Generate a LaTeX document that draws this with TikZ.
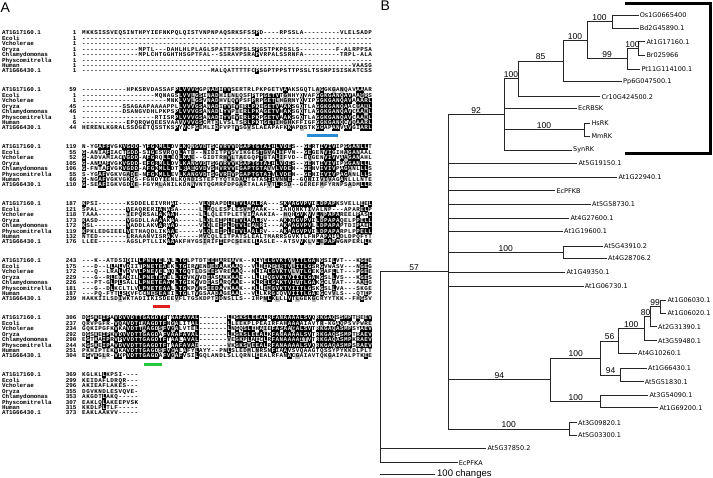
\documentclass[tikz,border=0pt]{standalone}
\usepackage{fontspec}
\setmainfont{Liberation Sans}
\newfontfamily\alfont{Liberation Mono}
\newfontfamily\leaffont{DejaVu Sans}
\definecolor{algrey}{gray}{0.74}
\definecolor{barblue}{RGB}{40,140,210}
\definecolor{barred}{RGB}{225,30,30}
\definecolor{bargreen}{RGB}{40,200,60}
\ExplSyntaxOn
\tl_const:Nn \c_al_pitch_tl {4.03}
\tl_const:Nn \c_al_rowh_tl {5.43}
\tl_const:Nn \c_al_seqx_tl {82}
\int_new:N \l_al_cnt_int
\int_new:N \l_al_max_int
\int_new:N \l_al_cls_int
\int_new:N \l_al_ri_int
\tl_new:N \l_al_cons_tl
\tl_new:N \l_al_x_tl
\tl_new:N \l_al_xc_tl
\tl_new:N \l_al_yb_tl
\tl_new:N \l_al_yt_tl
\tl_new:N \l_al_w_tl
\seq_new:N \l_al_names_seq
\seq_new:N \l_al_nums_seq
\seq_set_from_clist:Nn \l_al_names_seq
  { AT1G17160.1 , Ecoli , Vcholerae , Oryza , Chlamydomonas , Physcomitrella , Human , AT1G66430.1 }
\int_step_inline:nn {8}
  {
    \str_new:c { l_al_row_#1_str }
    \tl_new:c { l_al_k_#1_tl }
  }
\cs_new:Npn \al_item:nn #1#2
  { \exp_args:Nc \str_item:Nn { l_al_row_#1_str } {#2} }
\cs_new:Npn \al_group:n #1
  {
    \str_case:nnF {#1}
      {
        {I}{a}{L}{a}{V}{a}{M}{a}
        {F}{b}{Y}{b}{W}{b}
        {K}{c}{R}{c}{H}{c}
        {D}{d}{E}{d}{N}{d}{Q}{d}
        {S}{e}{T}{e}
        {A}{f}{G}{f}
      }
      {#1}
  }
\cs_new_protected:Npn \al_box:n #1
  {
    \begin{pgfscope}
    \pgfsetfillcolor{#1}
    \pgfpathrectangle{\pgfpoint{\l_al_x_tl pt}{\l_al_yt_tl pt}}{\pgfpoint{\l_al_w_tl pt}{-5.53pt}}
    \pgfusepath{fill}
    \end{pgfscope}
  }
\cs_new_protected:Npn \al_block:nnnn #1#2#3#4
  {
    \seq_set_from_clist:Nn \l_al_nums_seq {#3}
    \int_zero:N \l_al_ri_int
    \tl_map_inline:nn {#4}
      {
        \int_incr:N \l_al_ri_int
        \str_set:cn { l_al_row_ \int_use:N \l_al_ri_int _str } {##1}
      }
    \tl_set:Nx \l_al_w_tl { \fp_eval:n { \c_al_pitch_tl + 0.2 } }
    \int_step_inline:nn {8}
      {
        \tl_set:Nx \l_al_yb_tl { \fp_eval:n { -(#1 + (##1 - 1) * \c_al_rowh_tl + 1.9) } }
        \pgftext[base,left,at={\pgfpoint{2pt}{\l_al_yb_tl pt}}]
          { \color{black} \seq_item:Nn \l_al_names_seq {##1} }
        \pgftext[base,right,at={\pgfpoint{76.5pt}{\l_al_yb_tl pt}}]
          { \color{black} \seq_item:Nn \l_al_nums_seq {##1} }
      }
    \int_step_variable:nNn {#2} \l_al_c_tl
      {
        \int_step_variable:nNn {8} \l_al_r_tl
          {
            \tl_set:cx { l_al_k_ \l_al_r_tl _tl } { \al_item:nn { \l_al_r_tl } { \l_al_c_tl } }
            \tl_if_empty:cT { l_al_k_ \l_al_r_tl _tl }
              { \tl_set:cn { l_al_k_ \l_al_r_tl _tl } { - } }
          }
        \int_zero:N \l_al_max_int
        \tl_clear:N \l_al_cons_tl
        \int_step_variable:nNn {8} \l_al_r_tl
          {
            \str_if_eq:eeF { \tl_use:c { l_al_k_ \l_al_r_tl _tl } } { - }
              {
                \int_zero:N \l_al_cnt_int
                \int_step_variable:nNn {8} \l_al_s_tl
                  {
                    \str_if_eq:eeT { \tl_use:c { l_al_k_ \l_al_r_tl _tl } } { \tl_use:c { l_al_k_ \l_al_s_tl _tl } }
                      { \int_incr:N \l_al_cnt_int }
                  }
                \int_compare:nNnT { \l_al_cnt_int } > { \l_al_max_int }
                  {
                    \int_set_eq:NN \l_al_max_int \l_al_cnt_int
                    \tl_set:Nx \l_al_cons_tl { \tl_use:c { l_al_k_ \l_al_r_tl _tl } }
                  }
              }
          }
        \tl_set:Nx \l_al_x_tl { \fp_eval:n { \c_al_seqx_tl + (\l_al_c_tl - 1) * \c_al_pitch_tl - 0.1 } }
        \tl_set:Nx \l_al_xc_tl { \fp_eval:n { \c_al_seqx_tl + (\l_al_c_tl - 0.5) * \c_al_pitch_tl } }
        \int_step_variable:nNn {8} \l_al_r_tl
          {
            \tl_set:Nx \l_al_yt_tl { \fp_eval:n { -(#1 + (\l_al_r_tl - 1.5) * \c_al_rowh_tl) + 0.05 } }
            \tl_set:Nx \l_al_yb_tl { \fp_eval:n { -(#1 + (\l_al_r_tl - 1) * \c_al_rowh_tl + 1.9) } }
            \int_set:Nn \l_al_cls_int {0}
            \str_if_eq:eeF { \tl_use:c { l_al_k_ \l_al_r_tl _tl } } { - }
              {
                \int_compare:nNnT { \l_al_max_int } > { 3 }
                  {
                    \str_if_eq:eeTF { \tl_use:c { l_al_k_ \l_al_r_tl _tl } } { \l_al_cons_tl }
                      { \int_set:Nn \l_al_cls_int {2} }
                      {
                        \str_if_eq:eeT
                          { \exp_args:Nv \al_group:n { l_al_k_ \l_al_r_tl _tl } }
                          { \exp_args:NV \al_group:n \l_al_cons_tl }
                          { \int_set:Nn \l_al_cls_int {1} }
                      }
                  }
              }
            \int_case:nn { \l_al_cls_int }
              {
                {2} { \al_box:n {black} }
                {1} { \al_box:n {algrey} }
              }
            \pgftext[base,at={\pgfpoint{\l_al_xc_tl pt}{\l_al_yb_tl pt}}]
              {
                \int_compare:nNnTF { \l_al_cls_int } = {2} { \color{white} } { \color{black} }
                \tl_use:c { l_al_k_ \l_al_r_tl _tl }
              }
          }
      }
  }
\NewDocumentCommand \AlBlock { m m m m } { \al_block:nnnn {#1} {#2} {#3} {#4} }
\ExplSyntaxOff
\tikzset{
  br/.style={line width=0.75pt, draw=black!85, line cap=rect},
  leaf/.style={font=\leaffont\mdseries\fontsize{6.5}{7}\selectfont, anchor=west, inner sep=1.3pt},
  bs/.style={font=\rmfamily\mdseries\fontsize{8.5}{9}\selectfont, anchor=south, inner sep=0.8pt},
  panel/.style={font=\rmfamily\mdseries\fontsize{14}{14}\selectfont, anchor=base west, inner sep=0pt},
  scalelab/.style={font=\rmfamily\mdseries\fontsize{9.5}{10}\selectfont, anchor=west, inner sep=2pt},
  thickbr/.style={line width=2.7pt, draw=black},
}
\newcommand\tleaf[4]{\coordinate (#1) at (#2,#3); \node[leaf] (#1t) at (#1) {#4};}
\newcommand\tedge[2]{\draw[br] (#1 |- #2) -- (#2);}
\newcommand\tspan[3]{\draw[br] (#1 |- #2) -- (#1 |- #3);}
\begin{document}
\begin{tikzpicture}[x=1pt,y=-1pt]
\useasboundingbox (0,0) rectangle (713,478);
% ---------------- Panel A -----------------
\node[panel] (labA) at (0.5,12.5) {A};
\begin{scope}
\alfont\bfseries\fontsize{5.9}{6}\selectfont
\AlBlock{33}{72}{1,1,1,1,1,1,1,1}{
{MKKSISSVEQSINTHPYIEFNKPQLQISTVNPNPAQSRKSFSSPD----RPSSLA---------VLELSADPEAMK}
{-}
{-}
{--------------MPTL---DAHLHLPLAGLSPATTSRPSLSPGSTPKPGSLS---------F-ALRPPSALSA}
{--------------MPLCHTGGHTHSGPTFAL--SSRAVPSRAPVRPALSSRNFA---------TRPL-ALASSPR}
{-}
{-------------------------------------------------------------------VAASG}
{--------------------------------MALQATTTTFCPSGPTPPSTTPSSLTSSRPISISKATCSSPESLS}
}
\AlBlock{90}{72}{59,1,1,45,46,1,6,44}{
{-----------HPKSRVDASSAFPLVVVGGPNADIYVSERTRLPKPGETVAAKSGQTLAGGKGANQAVAAAR}
{------------------MQNAGSLVVLGSINADHILNLQSFPTPGETVTGNHYQVAFGGKGANQAVAAGRS}
{---------------------MNKLVVLGSVNADHVLQVPSFPRPGETLHGRNYQVIPGGKGANQAVAAARL}
{----------SSAGAAPAAAAPPLLVVVGSANADIYVEVERLPKEGETVAAKSGQTLAGGKGANQAACGAKL}
{----------DSANGVDHLPKPSPLVVVGSANADLYVPIERLPKAGETVHAKSGQTLAGGKGANQAVCAAKL}
{------------------RTISRPLVVVGSANADIYVEVERLPKPGETVAAKSGQTLAGGKGANQAVCAAKL}
{-----------EPQRQWQEESVAAVVVVGSCMTDLVSLTSRLPKTGETIHGHKFFIGFGGKGANQCVQAARL}
{HERENLKGRALSSDGETQSSTKSPYVCFGEMLIDFVPTVSGVSLAEAPAFKKAPDSTKGGAPANVAVGIARL}
}
\AlBlock{147}{72}{119,55,52,105,106,55,66,110}{
{N-YGAFFVGKVGDD-YFGKMLLDVLKQNGVDTSCVRVVDGAPTGTAIILVDES--GERTIVIVIPGGANLLT}
{G-ANIAFIACTGDD-SIGESVRQQLATD--NIDITPVSVIKGESTGVALIFVN--GEGENVIGIHAGANAAL}
{G-ADVAMIACVGDD-AFGRQLLEQLKAE--GIDTRHVLTAEGQPTGTALIFVD--EQGENVIVVAAGANAHL}
{G-ANAAFVGKVGDD-EFGRMLLDVLKANGVDTSGVRVVKGAPTGTAIILVDES--GENTIVIVIPGGANLLL}
{G-FNTAFVGKVGDD-AFGKMLLDTLRAEGVDVSHVRVVEGAPTGTAVVLVDEN--GENVIVIVPAGANLLLS}
{S-YGAFVGKVGADE-NFGKMLLEVLKANGVDTSGVRIVPGAPTGTAIVLVDEN--GENIIVIVPAGANLLLS}
{G-NGAFVGKVGKDS-FGNDYIENLKQNDISTEFTYQTKDAATGTASIIVNNE--GQNIIVIVAGANLLLNTE}
{G-SEAFIGKVGDDE-FGYMLANILKDNNVNTQGMRFDPGARTALAFVTLRSD--GEREFMFYRNPSADMLLR}
}
\AlBlock{204}{72}{187,121,118,173,172,119,132,176}{
{KPSI-------KSDDELEIVRHAI-----VLQRAPDLKTVLAALRA---SKAAGVPVILDPAPKSVELLEEL}
{SPAL-------VEAQRERIANASA-----LLMQLESPLESVMAAAK---IAHQNKTIVALNP---APARELP}
{TAAA-------IEPQRSALAKAAH-----LLLQLETPLETVIAAAKIA--HQHGVKVVLNPAPAREELPASL}
{KASD-------VGGDLLAAAAKAA-----LLQLEIPLETVLAALRV---AKKAGVPVILDPAPAQELPPELL}
{KSL--------VADDLAKVARAAD-----VLQLEIPLDTVLEAMRI---AKAAGVPVLLDPAPAPTDIPAEL}
{KPKLEDGIEELVETHAQDLIKAAE-----VLQLEIPLETVLAALRV---AKAAGVPVILDPAPARPLPPELL}
{NTED-------LRAAANVISRAKV-----MVCQLEITPATSLEALTMARRSGVKTLFNPAPAIADLDPQFYT}
{LLEE-------AGSLPTLLIKAAAKFHYGSIRIFIEPCSEKELLASLE--ATSVVKLVLEPAPWGNPERLLK}
}
\AlBlock{261}{72}{243,175,172,229,226,181,187,239}{
{---K--ATDSIDILLPNETELALLTGLPTDTEEHAREAVK--KLYELGVKTVVITLGANGSILVT---KGEE}
{---D--LLALVDIITPNETEAEKLTGIRVENDEDAAKAAQ--VLHEKGIRTVLITLGSRGVWASV---NGEG}
{---Q--LRALVDVVLPNEVELAQLTGQTLDSEESVREAAQ--HLIALGVKTVLVTLGEKGAFLLT---PGEE}
{---G--RLEIADILLPNETEAELLTGVKVVDEASAKKAAE--LLLEQGVKTVIITLGANGSLLVS---KGES}
{---PT-GLPLSALLLPNETEAAMLTGIKVVDEASARQAAE--KLRELGAKTVIVTLGAKGCLVAT---AAEG}
{---G--DLKCLTLVLPNETEAALLTGKPVNSEEDAVKAAK--KLLEMGVKTVIITLGSKGSLLVA---SKGE}
{---PQ-FYTLSDVFCCNESEAEILTGLTVGSAADAGEAAL--VLLKRGCQVVIITLGAEGCVVLS---QTEP}
{HAKKIILSDIWKTADIIKISDEEVFLTGSKDPTDDNSLLS--IHPNLKLLLVTLGEKGCRYYTKK--FHGSV}
}
\AlBlock{318}{72}{306,237,234,292,290,244,251,304}{
{DGSKEIPAVDVVDTTGAGDTFTAAFAVAL-------LKGKSLEEALRFANAAAALSVQRKGAQSSMPTREEV}
{QRVPGFR-VQAVDTIAAGDTFNGALITAL-------LLEEKPLPEAIRFAHAAAAIAVTR-KGAQPSVPWRE}
{GQKIPGFKVKAVDTTAAGDSFVGALVTEL-------LNGQSLEHAIEFASAAGALSVTRKGAQASMPSYAEV}
{DGSKEIPKVDVVDTTGAGDAFVAAFAVAL-------LKGKSLEEALKFANAAAALSVTRKGAQSSMPTRAEV}
{EGTKAIPRVPVVDTTGAGDTFTAALAVAL-------VEGKPLAECLRFANAAAAITVTRKGAQASMPKRAEV}
{KGSKEIPAVDVVDTTGAGDTFTAAFAVAI-------VKGKSVEEALRFANAAAALSVQRKGAQASMPSRAEV}
{PKHIPTEKVKAVDTTGAGDSFVGALAFYLAYY--PNLSLEDMLNRSNFIAAVSVQAAGTQSSYPYKKDLPLT}
{EGVKGLR-VDPVDTTGAGDAFVGAFVSILGQLANDLSLLQRNLEEALRFANACGAIAVTQKGAIPALPTKEE}
}
\AlBlock{375}{14}{369,299,296,355,353,307,315,373}{
{KGLKLLKPSI}
{KEIDAFLDRQR}
{AKIEAFLAKES}
{DGVKNDLESVQVE}
{AKGDTLAKQ}
{EAKLQLAKEEPVSK}
{KKDLPLTLF}
{EAKLAAKVV}
}
\end{scope}
\fill[barblue] (307,134.5) rectangle (338,137.5);
\fill[barred] (153,305.5) rectangle (170,308.5);
\fill[bargreen] (144,363.5) rectangle (162,366.5);
% ---------------- Panel B -----------------
\node[panel] (labB) at (380.5,10.8) {B};
\coordinate (root) at (380,367);
\coordinate (n57) at (448,271.4);
\coordinate (n92) at (504,114.4);
\coordinate (n100a) at (518,78.8);
\coordinate (n85) at (563,61);
\coordinate (n100b) at (587,40.2);
\coordinate (n100c) at (612,21.7);
\coordinate (n99) at (627,58.7);
\coordinate (n100d) at (638,48.3);
\coordinate (nHs) at (584,129.7);
\coordinate (nA) at (563.3,252.2);
\coordinate (n94) at (550.7,379.7);
\coordinate (n100f) at (600.7,358);
\coordinate (n100g) at (600.7,401.3);
\coordinate (n56) at (618.3,341);
\coordinate (n94b) at (620.7,375);
\coordinate (n100h) at (644.3,328.7);
\coordinate (n80) at (650,316.7);
\coordinate (n99b) at (660,306.7);
\coordinate (nB) at (569.3,428.9);
\tleaf{Os}{638.3}{15}{Os1G0665400}
\tleaf{Bd}{638.3}{28.3}{Bd2G45890.1}
\tleaf{AtA}{645}{41.7}{At1G17160.1}
\tleaf{Br}{645}{55}{Br025966}
\tleaf{Pt}{640}{69}{Pt11G114100.1}
\tleaf{Pp}{621.7}{81.7}{Pp6G047500.1}
\tleaf{Cr}{600}{96.7}{Cr10G424500.2}
\tleaf{EcRBSK}{576.7}{108.3}{EcRBSK}
\tleaf{HsRK}{590}{123.3}{HsRK}
\tleaf{MmRK}{590}{136}{MmRK}
\tleaf{SynRK}{571.7}{150}{SynRK}
\tleaf{AtB}{577}{163.3}{At5G19150.1}
\tleaf{AtC}{617}{177.3}{At1G22940.1}
\tleaf{EcPFKB}{555}{190.7}{EcPFKB}
\tleaf{AtD}{590.7}{204.3}{At5G58730.1}
\tleaf{AtE}{569}{218.3}{At4G27600.1}
\tleaf{AtF}{562.7}{231}{At1G19600.1}
\tleaf{AtG}{602.7}{246}{At5G43910.2}
\tleaf{AtH}{606.7}{258.3}{At4G28706.2}
\tleaf{AtI}{565}{272.3}{At1G49350.1}
\tleaf{AtJ}{583.3}{286}{At1G06730.1}
\tleaf{AtK}{666}{300}{At1G06030.1}
\tleaf{AtL}{666}{313.3}{At1G06020.1}
\tleaf{AtM}{656.7}{326.7}{At2G31390.1}
\tleaf{AtN}{656.7}{340.7}{At3G59480.1}
\tleaf{AtO}{636.7}{353.3}{At4G10260.1}
\tleaf{AtP}{646.7}{368.3}{At1G66430.1}
\tleaf{AtQ}{643.3}{381.7}{At5G51830.1}
\tleaf{AtR}{648}{395}{At3G54090.1}
\tleaf{AtS}{658}{407.7}{At1G69200.1}
\tleaf{AtT}{576.7}{422.7}{At3G09820.1}
\tleaf{AtU}{576.7}{435}{At5G03300.1}
\tleaf{AtV}{486}{448.3}{At5G37850.2}
\tleaf{EcPFKA}{457.3}{462.7}{EcPFKA}
% root
\tspan{root}{n57}{EcPFKA}
\tedge{root}{n57}\tedge{root}{AtV}\tedge{root}{EcPFKA}
% n57
\tspan{n57}{n92}{nB}
\tedge{n57}{n92}\tedge{n57}{AtB}\tedge{n57}{AtC}\tedge{n57}{EcPFKB}
\tedge{n57}{AtD}\tedge{n57}{AtE}\tedge{n57}{AtF}\tedge{n57}{nA}
\tedge{n57}{AtI}\tedge{n57}{AtJ}\tedge{n57}{n94}\tedge{n57}{nB}
% n92 clade
\tspan{n92}{n100a}{SynRK}
\tedge{n92}{n100a}\tedge{n92}{EcRBSK}\tedge{n92}{nHs}\tedge{n92}{SynRK}
\tspan{n100a}{n85}{Cr}\tedge{n100a}{n85}\tedge{n100a}{Cr}
\tspan{n85}{n100b}{Pp}\tedge{n85}{n100b}\tedge{n85}{Pp}
\tspan{n100b}{n100c}{n99}\tedge{n100b}{n100c}\tedge{n100b}{n99}
\tspan{n100c}{Os}{Bd}\tedge{n100c}{Os}\tedge{n100c}{Bd}
\tspan{n99}{n100d}{Pt}\tedge{n99}{n100d}\tedge{n99}{Pt}
\tspan{n100d}{AtA}{Br}\tedge{n100d}{AtA}\tedge{n100d}{Br}
\tspan{nHs}{HsRK}{MmRK}\tedge{nHs}{HsRK}\tedge{nHs}{MmRK}
% others
\tspan{nA}{AtG}{AtH}\tedge{nA}{AtG}\tedge{nA}{AtH}
\tspan{n94}{n100f}{n100g}\tedge{n94}{n100f}\tedge{n94}{n100g}
\tspan{n100f}{n56}{n94b}\tedge{n100f}{n56}\tedge{n100f}{n94b}
\tspan{n56}{n100h}{AtO}\tedge{n56}{n100h}\tedge{n56}{AtO}
\tspan{n100h}{n80}{AtN}\tedge{n100h}{n80}\tedge{n100h}{AtN}
\tspan{n80}{n99b}{AtM}\tedge{n80}{n99b}\tedge{n80}{AtM}
\tspan{n99b}{AtK}{AtL}\tedge{n99b}{AtK}\tedge{n99b}{AtL}
\tspan{n94b}{AtP}{AtQ}\tedge{n94b}{AtP}\tedge{n94b}{AtQ}
\tspan{n100g}{AtR}{AtS}\tedge{n100g}{AtR}\tedge{n100g}{AtS}
\tspan{nB}{AtT}{AtU}\tedge{nB}{AtT}\tedge{nB}{AtU}
% bootstrap values
\node[bs] (b57) at (414,271.4) {57};
\node[bs] (b92) at (476,114.4) {92};
\node[bs] (b100a) at (511,78.8) {100};
\node[bs] (b85) at (540.5,61) {85};
\node[bs] (b100b) at (575,40.2) {100};
\node[bs] (b100c) at (599.5,21.7) {100};
\node[bs] (b99) at (607,58.7) {99};
\node[bs] (b100d) at (632.5,48.3) {100};
\node[bs] (bHs) at (544,129.7) {100};
\node[bs] (bA) at (505.7,252.2) {100};
\node[bs] (b94) at (499.4,379.7) {94};
\node[bs] (b100f) at (575.7,358) {100};
\node[bs] (b100g) at (575.7,401.3) {100};
\node[bs] (b56) at (609.5,341) {56};
\node[bs] (b94b) at (610.7,375) {94};
\node[bs] (b100h) at (631.3,328.7) {100};
\node[bs] (b80) at (645.5,316.7) {80};
\node[bs] (b99b) at (655,306.7) {99};
\node[bs] (bB) at (508.7,428.9) {100};
% bracket
\coordinate (bt1) at (625,3.5);
\coordinate (bt2) at (710.6,3.5);
\coordinate (bb2) at (710.6,153.2);
\coordinate (bb1) at (625,153.2);
\draw[thickbr] (bt1) -- (bt2) -- (bb2) -- (bb1);
% scale bar
\coordinate (sb1) at (380,474);
\coordinate (sb2) at (435,474);
\draw[br] (sb1) -- (sb2);
\node[scalelab] (sbl) at (sb2) {100 changes};
\end{tikzpicture}
\end{document}
